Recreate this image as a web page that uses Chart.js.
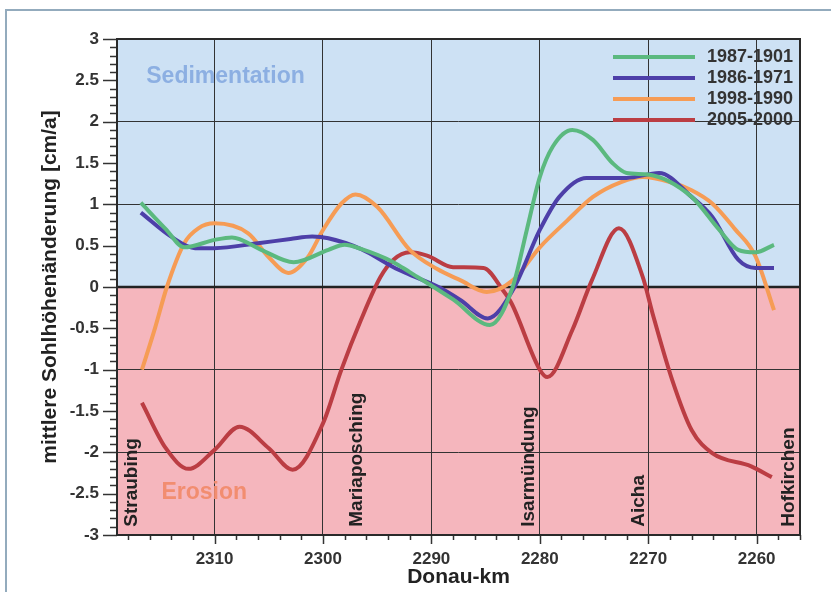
<!DOCTYPE html>
<html>
<head>
<meta charset="utf-8">
<script src="https://cdn.jsdelivr.net/npm/chart.js@4"></script>
<style>
  body { margin: 0; background: #fff; }
  #wrap { position: relative; width: 831px; height: 592px; overflow: hidden; }
  #frame { position: absolute; left: 5px; top: 9px; right: -4px; bottom: -4px;
           border-top: 2px solid #93abbd; border-left: 2px solid #93abbd; }
  #chart { position: absolute; left: 0; top: 0; }
</style>
</head>
<body>
<div id="wrap">
  <div id="frame"></div>
  <canvas id="chart" width="831" height="592"></canvas>
</div>
<script>
const seriesLabels = ["1987-1901", "1986-1971", "1998-1990", "2005-2000"];
const seriesColors = ["#5bb97f", "#4d3fa8", "#f69c55", "#bb3d43"];

const km1987 = [2316.8, 2314.5, 2312.8, 2310, 2308.4, 2305.7, 2302.7, 2299.5, 2298, 2296.5, 2293.5, 2292, 2288, 2284.6, 2282.5, 2281.2, 2280, 2278.8, 2277, 2275.1, 2273.3, 2272, 2270, 2266, 2263.5, 2261.7, 2260.1, 2258.4];
const val1987 = [1.02, 0.7, 0.48, 0.57, 0.6, 0.45, 0.3, 0.45, 0.51, 0.46, 0.3, 0.18, -0.15, -0.46, 0.0, 0.69, 1.33, 1.7, 1.9, 1.78, 1.5, 1.38, 1.36, 1.09, 0.7, 0.45, 0.42, 0.51];

const km1986 = [2316.8, 2313.9, 2311.8, 2310, 2306, 2303, 2301, 2299.5, 2296.5, 2293.5, 2292, 2289.2, 2287.3, 2284.8, 2282.5, 2280, 2278.2, 2275.7, 2272, 2269, 2266, 2264.1, 2261.7, 2260.1, 2258.4];
const val1986 = [0.9, 0.6, 0.47, 0.47, 0.53, 0.58, 0.61, 0.59, 0.46, 0.24, 0.15, -0.01, -0.16, -0.38, -0.04, 0.69, 1.09, 1.32, 1.32, 1.38, 1.09, 0.85, 0.33, 0.23, 0.23];

const km1998 = [2316.7, 2315.5, 2314.4, 2312.8, 2311.5, 2310, 2306.9, 2305, 2303.2, 2301.4, 2300, 2298.3, 2297, 2295, 2292, 2289.5, 2287.3, 2284.9, 2282.5, 2280, 2277.5, 2275.1, 2272.5, 2270.5, 2268, 2266, 2264.1, 2262, 2260.1, 2258.4];
const val1998 = [-1.0, -0.5, 0.0, 0.53, 0.71, 0.77, 0.65, 0.36, 0.17, 0.36, 0.69, 1.01, 1.12, 0.97, 0.45, 0.22, 0.08, -0.06, 0.08, 0.48, 0.8, 1.09, 1.27, 1.33, 1.27, 1.17, 1.01, 0.7, 0.37, -0.28];

const km2005 = [2316.7, 2314.5, 2312.4, 2310, 2307.7, 2305, 2302.8, 2300, 2298.3, 2296.5, 2294.7, 2293.5, 2292, 2290.4, 2288, 2285.2, 2283.4, 2282.6, 2280, 2279.3, 2277, 2275.2, 2272.7, 2270.5, 2269.6, 2267.8, 2266, 2264.1, 2260.5, 2258.6];
const val2005 = [-1.4, -1.95, -2.2, -1.97, -1.69, -1.95, -2.21, -1.65, -1.0, -0.4, 0.12, 0.33, 0.42, 0.38, 0.24, 0.23, -0.04, -0.2, -1.0, -1.09, -0.52, 0.08, 0.71, 0.12, -0.32, -1.12, -1.73, -2.01, -2.17, -2.3];

const places = ["Straubing", "Mariaposching", "Isarmündung", "Aicha", "Hofkirchen"];
const placeKm = [2317.6, 2296.9, 2281.0, 2270.9, 2257.0];

const FONT = "'Liberation Sans', Arial, sans-serif";

function pairs(xs, ys) {
  return xs.map((x, i) => ({ x: x, y: ys[i] }));
}

const allKm = [km1987, km1986, km1998, km2005];
const allVal = [val1987, val1986, val1998, val2005];

// background halves, zero line, minor ticks, frame, legend and labels
const decor = {
  id: "decor",
  beforeDraw(chart) {
    const { ctx, chartArea: a, scales: { y } } = chart;
    const y0 = y.getPixelForValue(0);
    ctx.save();
    ctx.fillStyle = "#cde1f4";
    ctx.fillRect(a.left, a.top, a.right - a.left, y0 - a.top);
    ctx.fillStyle = "#f5b6bd";
    ctx.fillRect(a.left, y0, a.right - a.left, a.bottom - y0);
    ctx.restore();
  },
  beforeDatasetsDraw(chart) {
    const { ctx, chartArea: a, scales: { x, y } } = chart;
    ctx.save();
    // zero line
    const y0 = y.getPixelForValue(0);
    ctx.strokeStyle = "#222";
    ctx.lineWidth = 2.5;
    ctx.beginPath();
    ctx.moveTo(a.left, y0);
    ctx.lineTo(a.right, y0);
    ctx.stroke();

    // region texts
    ctx.font = "bold 23px " + FONT;
    ctx.textBaseline = "middle";
    ctx.textAlign = "left";
    ctx.fillStyle = "#8cafe2";
    ctx.fillText("Sedimentation", x.getPixelForValue(2316.3), y.getPixelForValue(2.55));
    ctx.fillStyle = "#f28d70";
    ctx.fillText("Erosion", x.getPixelForValue(2314.9), y.getPixelForValue(-2.49));
    ctx.restore();
  },
  afterDraw(chart) {
    const { ctx, chartArea: a, scales: { x, y } } = chart;
    ctx.save();
    ctx.strokeStyle = "#333";
    ctx.lineWidth = 1.5;
    // y tick marks
    for (let i = -30; i <= 30; i++) {
      const py = Math.round(y.getPixelForValue(i / 10)) + 0.5;
      const len = i % 5 === 0 ? 14 : 7;
      ctx.beginPath();
      ctx.moveTo(a.left - len, py);
      ctx.lineTo(a.left, py);
      ctx.stroke();
    }
    // x tick marks
    for (let k = 2256; k <= 2318; k += 2) {
      const px = Math.round(x.getPixelForValue(k)) + 0.5;
      const len = k % 10 === 0 ? 9 : 5;
      ctx.beginPath();
      ctx.moveTo(px, a.bottom);
      ctx.lineTo(px, a.bottom + len);
      ctx.stroke();
    }
    // frame
    ctx.lineWidth = 2;
    ctx.strokeStyle = "#2a2a2a";
    ctx.strokeRect(a.left, a.top, a.right - a.left, a.bottom - a.top);

    // place names
    ctx.font = "bold 19px " + FONT;
    ctx.fillStyle = "#222";
    ctx.textAlign = "left";
    ctx.textBaseline = "middle";
    const yb = y.getPixelForValue(-2.9);
    places.forEach((p, i) => {
      ctx.save();
      ctx.translate(x.getPixelForValue(placeKm[i]), yb);
      ctx.rotate(-Math.PI / 2);
      ctx.fillText(p, 0, 0);
      ctx.restore();
    });

    // legend
    ctx.font = "bold 18px " + FONT;
    ctx.fillStyle = "#333";
    chart.data.datasets.forEach((ds, i) => {
      const ly = 57 + i * 21;
      ctx.strokeStyle = ds.borderColor;
      ctx.lineWidth = 4;
      ctx.beginPath();
      ctx.moveTo(613, ly);
      ctx.lineTo(695, ly);
      ctx.stroke();
      ctx.fillText(ds.label, 707, ly);
    });
    ctx.restore();
  }
};

new Chart(document.getElementById("chart").getContext("2d"), {
  type: "line",
  data: {
    datasets: seriesLabels.map((label, i) => ({
      label: label,
      data: pairs(allKm[i], allVal[i]),
      borderColor: seriesColors[i],
      borderWidth: 4,
      pointRadius: 0,
      fill: false,
      cubicInterpolationMode: "monotone"
    }))
  },
  options: {
    responsive: false,
    animation: false,
    devicePixelRatio: 1,
    layout: { padding: { top: 39, right: 31, left: 0, bottom: 0 } },
    plugins: { legend: { display: false }, tooltip: { enabled: false } },
    scales: {
      x: {
        type: "linear",
        reverse: true,
        min: 2256,
        max: 2319,
        afterFit(s) { s.height = 57; },
        border: { display: false },
        grid: { color: "#333", lineWidth: 1, drawTicks: false },
        ticks: {
          stepSize: 10,
          includeBounds: false,
          maxRotation: 0,
          padding: 14,
          color: "#333",
          font: { family: FONT, size: 17, weight: "bold" },
          callback: v => String(v)
        },
        title: {
          display: true,
          text: "Donau-km",
          color: "#222",
          padding: { top: 0, bottom: 2 },
          font: { family: FONT, size: 21, weight: "bold" }
        }
      },
      y: {
        min: -3,
        max: 3,
        afterFit(s) { s.width = 117; },
        border: { display: false },
        grid: {
          drawTicks: false,
          lineWidth: 1,
          color: c => (Number.isInteger(c.tick.value) && Math.abs(c.tick.value) < 3 && c.tick.value !== 0) ? "#333" : "rgba(0,0,0,0)"
        },
        ticks: {
          stepSize: 0.5,
          padding: 18,
          color: "#333",
          font: { family: FONT, size: 17, weight: "bold" },
          callback: v => String(v)
        },
        title: {
          display: true,
          text: "mittlere Sohlhöhenänderung [cm/a]",
          color: "#222",
          padding: { top: 38, bottom: 0 },
          font: { family: FONT, size: 21, weight: "bold" }
        }
      }
    }
  },
  plugins: [decor]
});
</script>
</body>
</html>
